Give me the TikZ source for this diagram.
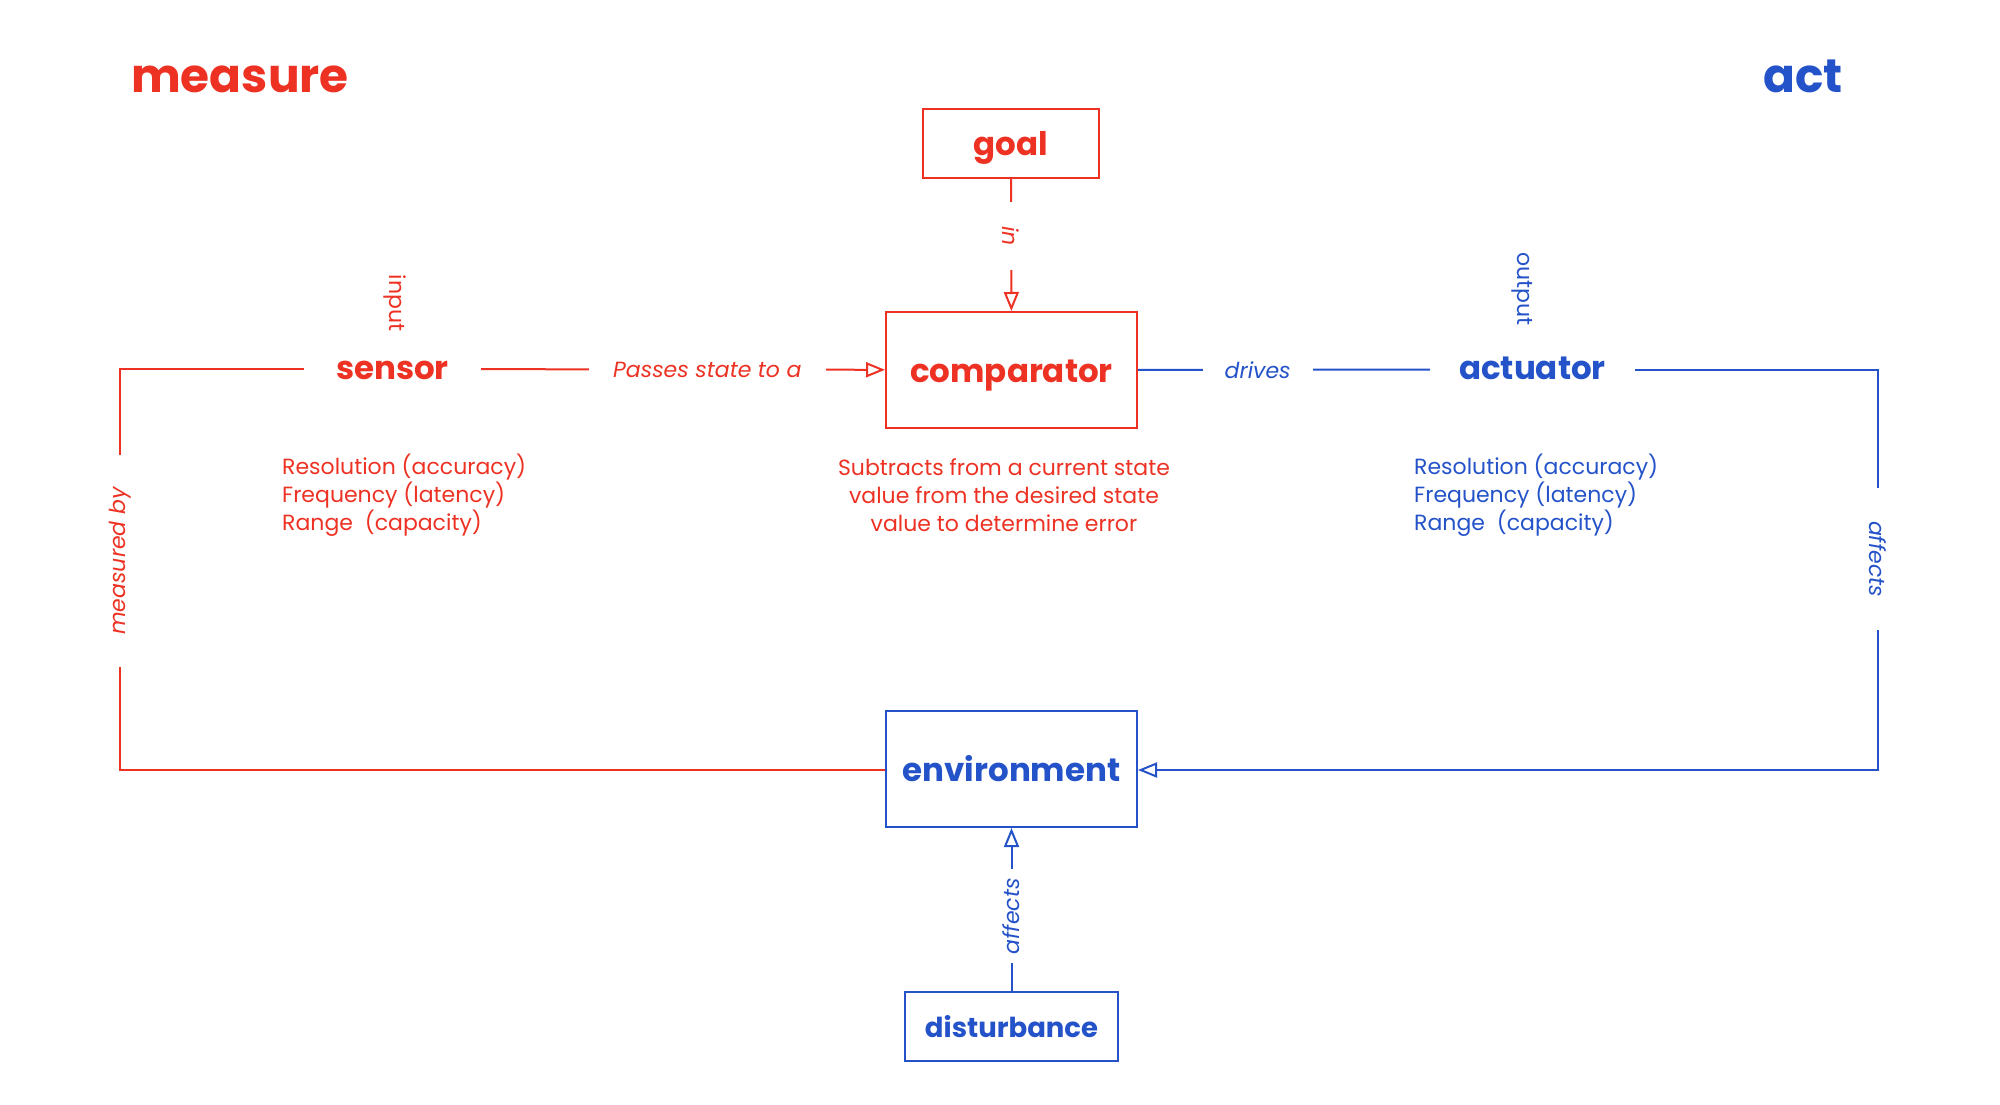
\documentclass[tikz,border=0pt]{standalone}
\usepackage{fontspec}
\setmainfont{Poppins}
\usetikzlibrary{arrows.meta}
\definecolor{cred}{RGB}{237,50,36}
\definecolor{cblue}{RGB}{36,82,200}
\tikzset{
  x=1pt, y=-1pt,
  conn/.style={line width=2pt},
  opentip/.style={-{Triangle[open,length=19pt,width=15pt,line width=2pt]}},
  box/.style={draw, line width=2pt, inner sep=0pt, text height=25pt, text depth=0pt, font=\bfseries\fontsize{32.5}{38}\selectfont},
  bare/.style={inner sep=0pt, text height=20pt, text depth=0pt, font=\bfseries\fontsize{32.5}{38}\selectfont},
  title/.style={inner sep=0pt, font=\bfseries\fontsize{47}{54}\selectfont, anchor=base west},
  body/.style={inner sep=0pt, font=\fontsize{22}{28}\selectfont},
  lab/.style={fill=white, inner ysep=0pt, font=\itshape\fontsize{22}{26}\selectfont},
  rlab/.style={fill=white, inner ysep=0pt, font=\fontsize{22}{26}\selectfont},
}
\begin{document}
\begin{tikzpicture}
\useasboundingbox (0,0) rectangle (2000,1105);
% titles
\node[title, text=cred] (tmeasure) at (131,93) {measure};
\node[title, text=cblue] (tact) at (1763,93) {act};
% nodes
\node[box, draw=cred, text=cred, minimum width=176pt, minimum height=69pt] (goal) at (1011,143.5) {goal};
\node[box, draw=cred, text=cred, minimum width=251pt, minimum height=116pt] (comp) at (1011.5,370) {comparator};
\node[bare, text=cred, minimum width=177pt] (sensor) at (392.5,369) {sensor};
\node[bare, text=cblue, minimum width=205pt] (act) at (1532.5,369.5) {actuator};
\node[box, draw=cblue, text=cblue, minimum width=251pt, minimum height=116pt] (env) at (1011.5,769) {environment};
\node[box, draw=cblue, text=cblue, text height=21pt, font=\bfseries\fontsize{27.5}{34}\selectfont, minimum width=213pt, minimum height=69pt] (dist) at (1011.5,1026.5) {disturbance};
% side labels
\node[body, text=cred, rotate=-90] (input) at (395,303) {input};
\node[body, text=cblue, rotate=-90] (output) at (1522,289) {output};
% descriptions
\node[body, text=cred, align=left, anchor=west] (sdesc) at (282,495) {Resolution (accuracy)\\Frequency (latency)\\Range~ (capacity)};
\node[body, text=cred, align=center] (cdesc) at (1004,495) {Subtracts from a current state\\value from the desired state\\value to determine error};
\node[body, text=cblue, align=left, anchor=west] (adesc) at (1414,495) {Resolution (accuracy)\\Frequency (latency)\\Range~ (capacity)};
% corner coordinates
\coordinate (lc1) at (120,369);
\coordinate (lc2) at (120,770);
\coordinate (rc1) at (1878,369.5);
\coordinate (rc2) at (1878,770);
% connectors
\draw[conn, cred, opentip] (goal) -- node[pos=0.43, rlab, text=cred, rotate=-90, inner xsep=24pt] {\itshape in} (comp);
\draw[conn, cred, opentip] (sensor) -- node[pos=0.56, lab, text=cred, inner xsep=24pt] {Passes state to a} (comp);
\draw[conn, cblue] (comp) -- node[pos=0.41, lab, text=cblue, inner xsep=22pt] {drives} (act);
\draw[conn, cred] (sensor.west) -- (lc1) -- node[pos=0.479, lab, text=cred, rotate=90, inner xsep=32pt] {measured by} (lc2) -- (env.west |- lc2);
\draw[conn, cblue, opentip] (act.east) -- (rc1) -- node[pos=0.473, lab, text=cblue, rotate=-90, inner xsep=33pt] {affects} (rc2) -- (env.east |- rc2);
\draw[conn, cblue, opentip] (dist) -- node[pos=0.458, lab, text=cblue, rotate=90, inner xsep=9pt] {affects} (env);
\end{tikzpicture}
\end{document}
